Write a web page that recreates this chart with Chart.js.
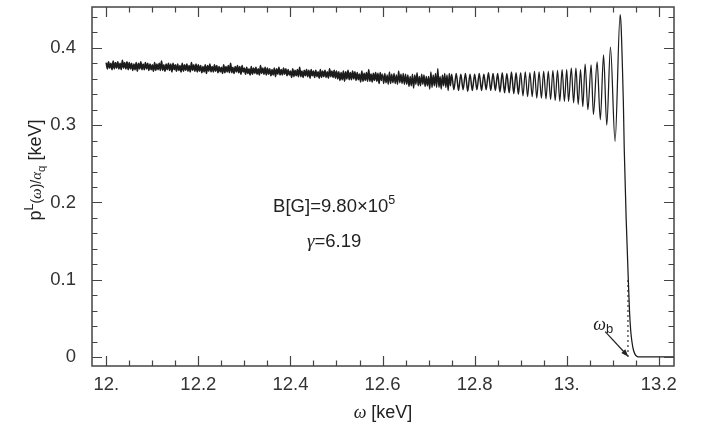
<!DOCTYPE html>
<html lang="en">
<head>
<meta charset="UTF-8" />
<title>Spectrum near the cutoff</title>
<script src="https://cdn.jsdelivr.net/npm/chart.js"></script>
<style>
  body { margin: 0; background: #fff; }
</style>
</head>
<body>
<canvas id="spectrum" width="705" height="431"></canvas>
<script>
const xTickValues = [12.0, 12.2, 12.4, 12.6, 12.8, 13.0, 13.2];
const xTickLabels = ['12.', '12.2', '12.4', '12.6', '12.8', '13.', '13.2'];
const yTickValues = [0, 0.1, 0.2, 0.3, 0.4];
const yTickLabels = ['0', '0.1', '0.2', '0.3', '0.4'];

// dense band, one reading every 0.0025 keV from 12.000 (one row = 0.05 keV)
const denseStart = 12.0;
const denseStep = 0.0025;
const denseValues = [
  0.381, 0.373, 0.382, 0.374, 0.380, 0.372, 0.383, 0.373, 0.381, 0.374, 0.382, 0.373, 0.380, 0.372, 0.384, 0.374, 0.381, 0.373, 0.382, 0.372,
  0.381, 0.373, 0.380, 0.371, 0.379, 0.372, 0.381, 0.370, 0.380, 0.373, 0.382, 0.372, 0.379, 0.372, 0.381, 0.373, 0.380, 0.371, 0.379, 0.372,
  0.378, 0.370, 0.381, 0.371, 0.379, 0.372, 0.380, 0.371, 0.383, 0.371, 0.378, 0.370, 0.379, 0.372, 0.380, 0.371, 0.379, 0.369, 0.380, 0.372,
  0.378, 0.370, 0.379, 0.371, 0.377, 0.369, 0.380, 0.370, 0.378, 0.371, 0.379, 0.370, 0.377, 0.369, 0.381, 0.371, 0.378, 0.370, 0.379, 0.369,
  0.378, 0.370, 0.377, 0.368, 0.376, 0.369, 0.378, 0.367, 0.377, 0.370, 0.379, 0.369, 0.376, 0.369, 0.378, 0.370, 0.377, 0.368, 0.376, 0.369,
  0.375, 0.367, 0.378, 0.368, 0.376, 0.369, 0.377, 0.368, 0.380, 0.368, 0.375, 0.367, 0.376, 0.369, 0.377, 0.368, 0.376, 0.366, 0.377, 0.369,
  0.374, 0.366, 0.375, 0.367, 0.373, 0.365, 0.376, 0.366, 0.374, 0.367, 0.375, 0.366, 0.373, 0.365, 0.377, 0.367, 0.374, 0.366, 0.375, 0.365,
  0.374, 0.366, 0.373, 0.364, 0.372, 0.365, 0.374, 0.363, 0.373, 0.366, 0.375, 0.365, 0.372, 0.365, 0.374, 0.366, 0.373, 0.364, 0.372, 0.365,
  0.370, 0.362, 0.373, 0.363, 0.371, 0.364, 0.372, 0.363, 0.375, 0.363, 0.370, 0.362, 0.371, 0.364, 0.372, 0.363, 0.371, 0.361, 0.372, 0.364,
  0.370, 0.362, 0.371, 0.363, 0.369, 0.361, 0.372, 0.362, 0.370, 0.363, 0.371, 0.362, 0.369, 0.361, 0.373, 0.363, 0.370, 0.362, 0.371, 0.361,
  0.370, 0.360, 0.369, 0.358, 0.368, 0.359, 0.370, 0.357, 0.369, 0.360, 0.371, 0.359, 0.368, 0.359, 0.370, 0.360, 0.369, 0.358, 0.368, 0.359,
  0.366, 0.356, 0.370, 0.357, 0.367, 0.358, 0.368, 0.357, 0.372, 0.357, 0.366, 0.356, 0.367, 0.358, 0.368, 0.357, 0.367, 0.354, 0.368, 0.358,
  0.366, 0.354, 0.367, 0.355, 0.365, 0.353, 0.369, 0.354, 0.366, 0.355, 0.367, 0.354, 0.365, 0.353, 0.370, 0.355, 0.366, 0.354, 0.367, 0.353,
  0.366, 0.353, 0.365, 0.350, 0.363, 0.351, 0.366, 0.348, 0.365, 0.353, 0.368, 0.351, 0.363, 0.351, 0.366, 0.353, 0.365, 0.350, 0.363, 0.351,
  0.363, 0.347, 0.369, 0.349, 0.365, 0.351, 0.367, 0.349, 0.373, 0.349, 0.363, 0.347, 0.365, 0.351, 0.367, 0.349, 0.365, 0.345, 0.367, 0.351
];

// oscillations start to separate: one reading every 0.005 keV from 12.750
const midStart = 12.75;
const midStep = 0.005;
const midValues = [
  0.366, 0.346, 0.367, 0.345, 0.366, 0.346, 0.367, 0.344, 0.366, 0.345,
  0.366, 0.346, 0.367, 0.345, 0.366, 0.346, 0.368, 0.345, 0.367, 0.345,
  0.367, 0.343, 0.368, 0.342, 0.367, 0.342, 0.369, 0.341, 0.368, 0.340,
  0.368, 0.338, 0.369, 0.337, 0.368, 0.337, 0.370, 0.335, 0.369, 0.335,
  0.370, 0.334, 0.370, 0.333, 0.371, 0.332, 0.371, 0.331, 0.372, 0.331
];

// resolved oscillations and the drop at the edge
const edgeOmega = [13.000, 13.004, 13.010, 13.015, 13.020, 13.025, 13.030, 13.035, 13.040, 13.046,
  13.053, 13.058, 13.066, 13.073, 13.080, 13.087, 13.095, 13.105, 13.116, 13.118,
  13.121, 13.123, 13.125, 13.129, 13.134, 13.1365, 13.139, 13.1416, 13.1445, 13.148,
  13.152, 13.158, 13.233];
const edgeValues = [0.372, 0.331, 0.374, 0.329, 0.374, 0.327, 0.372, 0.324, 0.379, 0.320,
  0.378, 0.314, 0.382, 0.307, 0.391, 0.300, 0.401, 0.279, 0.443, 0.430,
  0.375, 0.330, 0.268, 0.181, 0.096, 0.058, 0.034, 0.020, 0.010, 0.004,
  0.001, 0, 0];

const omegaB = 13.133;
const omegaBTop = 0.1;

const SANS = "'Liberation Sans', Arial, sans-serif";
const SERIF = "'Liberation Serif', 'Times New Roman', serif";

const onGrid = (start, step, vals) => vals.map((v, i) => ({ x: +(start + i * step).toFixed(4), y: v }));
const spectrum = onGrid(denseStart, denseStep, denseValues)
  .concat(onGrid(midStart, midStep, midValues))
  .concat(edgeOmega.map((w, i) => ({ x: w, y: edgeValues[i] })));

// frame with inward ticks on all four sides
const framePlugin = {
  id: 'frame',
  afterDatasetsDraw(chart) {
    const { ctx, chartArea: a, scales: { x, y } } = chart;
    ctx.save();
    ctx.strokeStyle = '#444';
    ctx.lineWidth = 1.2;
    ctx.beginPath();
    for (let k = Math.ceil(x.min / 0.05); k * 0.05 <= x.max; k++) {
      const px = Math.round(x.getPixelForValue(k * 0.05)) + 0.5;
      const len = k % 4 === 0 ? 10 : 5.5;
      ctx.moveTo(px, a.bottom); ctx.lineTo(px, a.bottom - len);
      ctx.moveTo(px, a.top); ctx.lineTo(px, a.top + len);
    }
    for (let k = 0; k * 0.02 <= y.max; k++) {
      const py = Math.round(y.getPixelForValue(k * 0.02)) + 0.5;
      const len = k % 5 === 0 ? 10 : 5.5;
      ctx.moveTo(a.left, py); ctx.lineTo(a.left + len, py);
      ctx.moveTo(a.right, py); ctx.lineTo(a.right - len, py);
    }
    ctx.stroke();
    ctx.lineWidth = 1.5;
    ctx.strokeRect(a.left, a.top, a.right - a.left, a.bottom - a.top);
    ctx.restore();
  }
};

function drawRuns(ctx, runs, x0, y0) {
  let x = x0;
  runs.forEach(r => {
    ctx.font = r.font;
    ctx.fillText(r.text, x, y0 - (r.rise || 0));
    x += ctx.measureText(r.text).width;
  });
}
function runsWidth(ctx, runs) {
  return runs.reduce((s, r) => { ctx.font = r.font; return s + ctx.measureText(r.text).width; }, 0);
}

const notesPlugin = {
  id: 'notes',
  afterDraw(chart) {
    const { ctx, scales: { x, y } } = chart;
    ctx.save();
    ctx.fillStyle = '#222';
    ctx.textBaseline = 'alphabetic';
    ctx.textAlign = 'left';

    const bRuns = [
      { text: 'B[G]=9.80\u00d710', font: `18.5px ${SANS}` },
      { text: '5', font: `12.5px ${SANS}`, rise: 8 }
    ];
    const gRuns = [
      { text: '\u03b3', font: `italic 19px ${SERIF}` },
      { text: '=6.19', font: `18.5px ${SANS}` }
    ];
    const cx = x.getPixelForValue(12.495);
    drawRuns(ctx, bRuns, cx - runsWidth(ctx, bRuns) / 2, y.getPixelForValue(0.188));
    drawRuns(ctx, gRuns, cx - runsWidth(ctx, gRuns) / 2, y.getPixelForValue(0.1425));

    // omega_b label and arrow
    const lx = x.getPixelForValue(13.0575), ly = y.getPixelForValue(0.035);
    drawRuns(ctx, [
      { text: '\u03c9', font: `italic 18px ${SERIF}` },
      { text: 'b', font: `13px ${SANS}`, rise: -3 }
    ], lx, ly);
    const ax0 = x.getPixelForValue(13.0836), ay0 = y.getPixelForValue(0.0328);
    const ax1 = x.getPixelForValue(13.134), ay1 = y.getPixelForValue(0.0004);
    const ang = Math.atan2(ay1 - ay0, ax1 - ax0);
    ctx.strokeStyle = '#222';
    ctx.lineWidth = 1.2;
    ctx.beginPath();
    ctx.moveTo(ax0, ay0);
    ctx.lineTo(ax1 - 5 * Math.cos(ang), ay1 - 5 * Math.sin(ang));
    ctx.stroke();
    ctx.beginPath();
    ctx.moveTo(ax1, ay1);
    ctx.lineTo(ax1 - 8 * Math.cos(ang - 0.35), ay1 - 8 * Math.sin(ang - 0.35));
    ctx.lineTo(ax1 - 8 * Math.cos(ang + 0.35), ay1 - 8 * Math.sin(ang + 0.35));
    ctx.closePath();
    ctx.fill();

    // x title
    const xRuns = [
      { text: '\u03c9', font: `italic 18px ${SERIF}` },
      { text: ' [keV]', font: `18px ${SANS}` }
    ];
    drawRuns(ctx, xRuns, 383 - runsWidth(ctx, xRuns) / 2, 418);

    // y title, rotated
    const yRuns = [
      { text: 'p', font: `18px ${SANS}` },
      { text: 'L', font: `12.5px ${SANS}`, rise: 8 },
      { text: '(', font: `14px ${SANS}` },
      { text: '\u03c9', font: `italic 15px ${SERIF}` },
      { text: ')/', font: `14px ${SANS}` },
      { text: '\u03b1', font: `italic 15px ${SERIF}` },
      { text: 'q', font: `11.5px ${SANS}`, rise: -4 },
      { text: ' [keV]', font: `18px ${SANS}` }
    ];
    ctx.translate(41, 170);
    ctx.rotate(-Math.PI / 2);
    drawRuns(ctx, yRuns, -runsWidth(ctx, yRuns) / 2, 0);
    ctx.restore();
  }
};

// the unresolved band reads darker and thicker in the original, thinning out towards the edge
function bandWidth(c) {
  const w = c.p0.parsed.x;
  if (w < 12.6) return 1.7;
  if (w < 12.9) return 1.5;
  return 1.25;
}

new Chart(document.getElementById('spectrum'), {
  type: 'line',
  data: {
    datasets: [
      {
        data: spectrum,
        borderColor: '#1c1c1c',
        borderWidth: 1.25,
        pointRadius: 0,
        cubicInterpolationMode: 'monotone',
        segment: { borderWidth: bandWidth },
        order: 0
      },
      {
        data: [{ x: omegaB, y: 0 }, { x: omegaB, y: omegaBTop }],
        borderColor: '#333',
        borderWidth: 1.2,
        borderDash: [2, 3],
        pointRadius: 0,
        order: 1
      }
    ]
  },
  options: {
    responsive: false,
    animation: false,
    layout: { padding: { top: 7, right: 31, left: 0, bottom: 0 } },
    plugins: { legend: { display: false }, tooltip: { enabled: false } },
    scales: {
      x: {
        type: 'linear',
        min: 11.969,
        max: 13.233,
        afterBuildTicks: axis => { axis.ticks = xTickValues.map(v => ({ value: v })); },
        afterFit: axis => {
          axis.height = 65;
          axis.paddingLeft = 0;
          axis.paddingRight = 0;
        },
        grid: { display: false, drawTicks: false },
        border: { display: false },
        ticks: {
          callback: (v, i) => xTickLabels[i],
          font: { family: SANS, size: 18.5 },
          color: '#333',
          padding: 8,
          maxRotation: 0,
          autoSkip: false
        }
      },
      y: {
        min: -0.0117,
        max: 0.453,
        afterBuildTicks: axis => { axis.ticks = yTickValues.map(v => ({ value: v })); },
        afterFit: axis => {
          axis.width = 92;
          axis.paddingTop = 0;
          axis.paddingBottom = 0;
        },
        grid: { display: false, drawTicks: false },
        border: { display: false },
        ticks: {
          callback: (v, i) => yTickLabels[i],
          font: { family: SANS, size: 18.5 },
          color: '#333',
          padding: 16
        }
      }
    }
  },
  plugins: [framePlugin, notesPlugin]
});
</script>
</body>
</html>
